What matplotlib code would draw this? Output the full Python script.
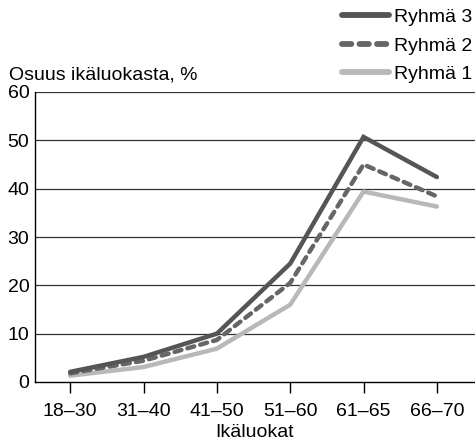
import matplotlib.pyplot as plt

plt.rcParams['font.family'] = ['Liberation Sans', 'DejaVu Sans']

age_groups = ['18–30', '31–40', '41–50', '51–60', '61–65', '66–70']
ryhma3 = [2.1, 5.2, 10.0, 24.5, 50.7, 42.4]
ryhma2 = [1.8, 4.4, 8.7, 20.5, 45.0, 38.4]
ryhma1 = [1.3, 3.1, 6.9, 16.0, 39.4, 36.3]

fs = 14

fig = plt.figure(figsize=(4.75, 4.42), dpi=100)
ax = fig.add_axes([35 / 475, 60 / 442, 440 / 475, 290 / 442])

x = range(len(age_groups))
ax.plot(x, ryhma3, color='#555555', lw=3.2, solid_capstyle='round',
        solid_joinstyle='miter', label='Ryhmä 3', zorder=4)
ax.plot(x, ryhma2, color='#666666', lw=3.2, linestyle=(0, (1.6, 1.4)),
        dash_capstyle='round', label='Ryhmä 2', zorder=3)
ax.plot(x, ryhma1, color='#b8b8b8', lw=3.2, solid_capstyle='round',
        label='Ryhmä 1', zorder=2)

ax.set_xlim(-0.48, 5.52)
ax.set_ylim(0, 60)
ax.set_yticks(range(0, 61, 10))
ax.set_xticks(list(x))
ax.set_xticklabels(age_groups)
for y in range(10, 61, 10):
    ax.axhline(y, color='#333333', lw=0.9, zorder=1)

for s in ['top', 'right']:
    ax.spines[s].set_visible(False)
ax.spines['left'].set_linewidth(1.0)
ax.spines['bottom'].set_linewidth(1.0)
ax.tick_params(axis='x', length=8, width=1, pad=7, labelsize=fs)
ax.tick_params(axis='y', length=0, pad=4, labelsize=fs)

ax.set_xlabel('Ikäluokat', fontsize=fs, labelpad=3)
fig.text(9 / 475, 1 - 75 / 442, 'Osuus ikäluokasta, %', fontsize=fs,
         va='center', ha='left')

leg = ax.legend(loc='upper right', bbox_to_anchor=(1.03, 1.02),
                bbox_transform=fig.transFigure, frameon=False, fontsize=fs,
                handlelength=2.4, handletextpad=0.25, labelspacing=0.55)
for line in leg.get_lines():
    line.set_linewidth(4.2)

fig.savefig('out.png', dpi=100)
